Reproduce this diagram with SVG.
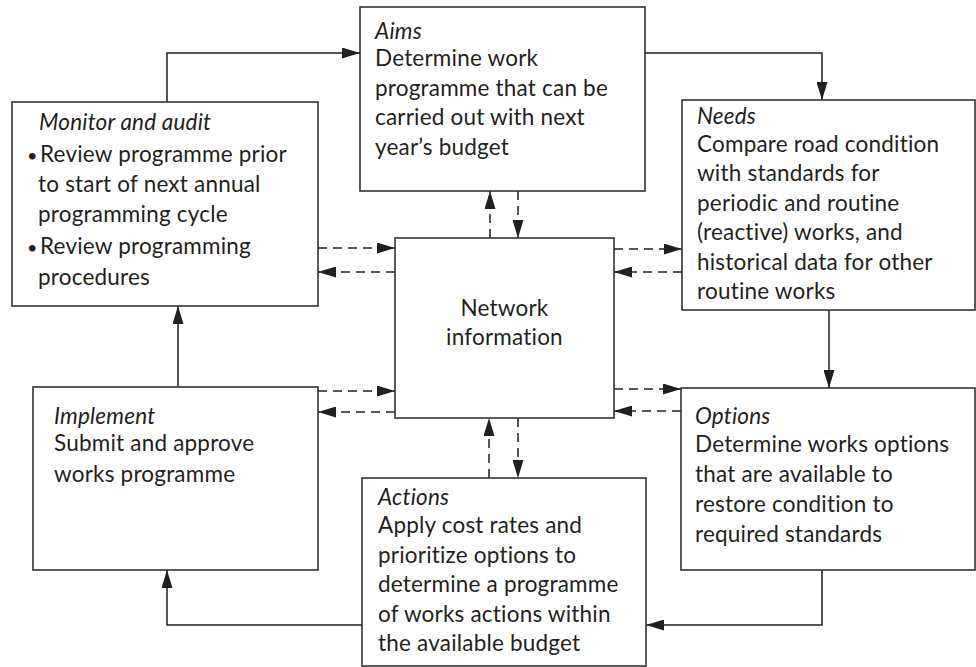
<svg xmlns="http://www.w3.org/2000/svg" width="976" height="667" viewBox="0 0 976 667">
<defs>
<marker id="ah" viewBox="0 0 18 11" refX="18" refY="5.5" markerWidth="18" markerHeight="11" markerUnits="userSpaceOnUse" orient="auto">
<path d="M0,0 L18,5.5 L0,11 z" fill="#231f20"/>
</marker>
<style>
.box{fill:#fff;stroke:#333;stroke-width:1.6}
.t{font-family:Lato,"Liberation Sans",sans-serif;font-size:22.5px;letter-spacing:0.2px;fill:#231f20}
.ti{font-style:italic}
.b{font-size:18px}
.c{fill:none;stroke:#231f20;stroke-width:1.5;marker-end:url(#ah)}
.d{stroke-dasharray:9 6}
</style>
</defs>
<rect width="976" height="667" fill="#fff"/>
<g id="connectors">
<path class="c" d="M167,102 V53 H360"/>
<path class="c" d="M645,53 H822 V100"/>
<path class="c" d="M829,310 V388"/>
<path class="c" d="M822,570 V625 H646"/>
<path class="c" d="M362,625 H167 V570"/>
<path class="c" d="M178,387 V306"/>
<path class="c d" d="M318,248 H395"/>
<path class="c d" d="M395,272 H318"/>
<path class="c d" d="M318,391 H395"/>
<path class="c d" d="M395,412 H318"/>
<path class="c d" d="M614,249 H682"/>
<path class="c d" d="M682,272 H614"/>
<path class="c d" d="M614,389 H681"/>
<path class="c d" d="M681,411 H614"/>
<path class="c d" d="M490,238 V191"/>
<path class="c d" d="M518,191 V238"/>
<path class="c d" d="M489,478 V418"/>
<path class="c d" d="M518,418 V478"/>
</g>
<g id="monitor">
<rect class="box" x="12" y="102" width="306" height="204"/>
<text class="t ti" x="39" y="130">Monitor and audit</text>
<text class="t" y="162"><tspan class="b" x="27">•</tspan><tspan x="40">Review programme prior</tspan></text>
<text class="t" x="38" y="192">to start of next annual</text>
<text class="t" x="38" y="222">programming cycle</text>
<text class="t" y="254"><tspan class="b" x="27">•</tspan><tspan x="40">Review programming</tspan></text>
<text class="t" x="38" y="285">procedures</text>
</g>
<g id="aims">
<rect class="box" x="360" y="7" width="285" height="184"/>
<text class="t ti" x="375" y="39">Aims</text>
<text class="t" x="375" y="66">Determine work</text>
<text class="t" x="375" y="96">programme that can be</text>
<text class="t" x="375" y="125">carried out with next</text>
<text class="t" x="375" y="155">year’s budget</text>
</g>
<g id="needs">
<rect class="box" x="682" y="100" width="293" height="210"/>
<text class="t ti" x="697" y="124">Needs</text>
<text class="t" x="697" y="152">Compare road condition</text>
<text class="t" x="697" y="181">with standards for</text>
<text class="t" x="697" y="211">periodic and routine</text>
<text class="t" x="697" y="240">(reactive) works, and</text>
<text class="t" x="697" y="270">historical data for other</text>
<text class="t" x="697" y="299">routine works</text>
</g>
<g id="network">
<rect class="box" x="395" y="238" width="219" height="180"/>
<text class="t" x="504.5" y="316" text-anchor="middle">Network</text>
<text class="t" x="504.5" y="345" text-anchor="middle">information</text>
</g>
<g id="implement">
<rect class="box" x="33" y="387" width="285" height="183"/>
<text class="t ti" x="54" y="424">Implement</text>
<text class="t" x="54" y="451">Submit and approve</text>
<text class="t" x="54" y="482">works programme</text>
</g>
<g id="options">
<rect class="box" x="681" y="388" width="294" height="182"/>
<text class="t ti" x="695" y="424">Options</text>
<text class="t" x="695" y="452">Determine works options</text>
<text class="t" x="695" y="482">that are available to</text>
<text class="t" x="695" y="512">restore condition to</text>
<text class="t" x="695" y="542">required standards</text>
</g>
<g id="actions">
<rect class="box" x="362" y="478" width="284" height="188"/>
<text class="t ti" x="378" y="505">Actions</text>
<text class="t" x="378" y="533">Apply cost rates and</text>
<text class="t" x="378" y="563">prioritize options to</text>
<text class="t" x="378" y="592">determine a programme</text>
<text class="t" x="378" y="622">of works actions within</text>
<text class="t" x="378" y="651">the available budget</text>
</g>
</svg>
